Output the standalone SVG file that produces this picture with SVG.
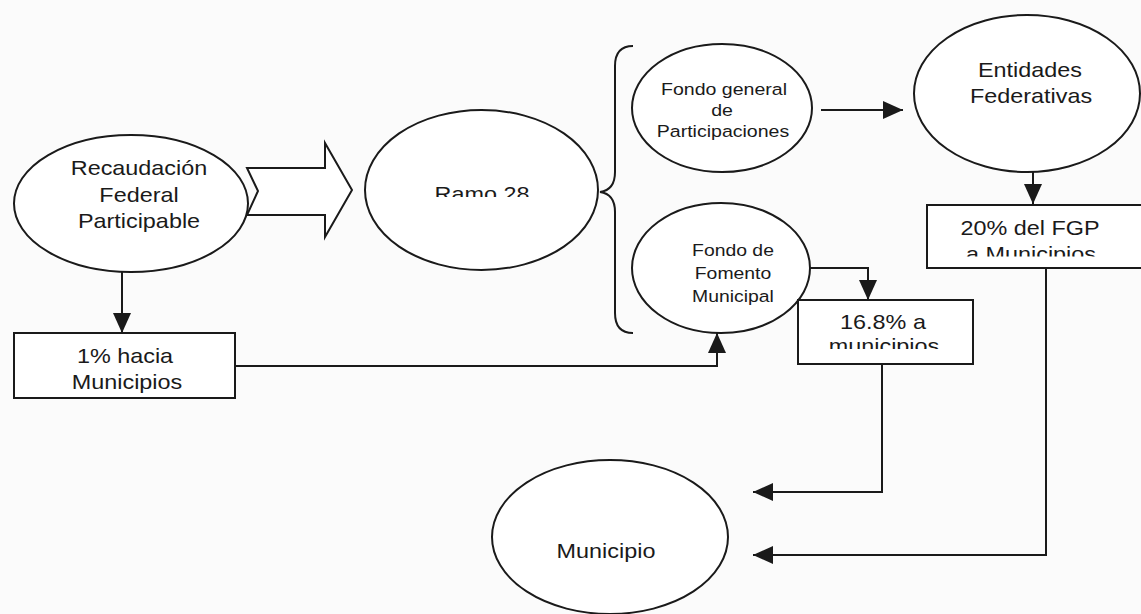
<svg xmlns="http://www.w3.org/2000/svg" width="1141" height="614" viewBox="0 0 1141 614">
<style>
.shape{fill:#fff;stroke:#1a1a1a;stroke-width:2}
.ln{fill:none;stroke:#1a1a1a;stroke-width:2}
.t{font-family:"Liberation Sans",Arial,sans-serif;font-size:20px;fill:#1a1a1a;text-anchor:middle}
.s{font-size:17px}
</style>
<defs>
<marker id="ah" markerUnits="userSpaceOnUse" markerWidth="20" markerHeight="18" refX="20" refY="9" orient="auto">
<path d="M0,0 L20,9 L0,18 z" fill="#1a1a1a"/>
</marker>
<clipPath id="cRamo"><rect x="400" y="150" width="170" height="47"/></clipPath>
<clipPath id="c20"><rect x="928" y="206" width="212" height="50.5"/></clipPath>
<clipPath id="c16"><rect x="799" y="301" width="173" height="48"/></clipPath>
</defs>
<rect width="1141" height="614" fill="#fbfbfb"/>

<g id="connectors">
<polygon class="shape" points="247,168 325,168 325,143 352,190 325,237 325,215 247,215 258,191"/>
<path class="ln" d="M633,46 Q615,46 615,66 L615,172 Q615,190 600,192 Q615,194 615,212 L615,313 Q615,333 633,333"/>
<line class="ln" x1="122" y1="272" x2="122" y2="333" marker-end="url(#ah)"/>
<polyline class="ln" points="235,366 717,366 717,333" marker-end="url(#ah)"/>
<line class="ln" x1="821" y1="110" x2="903" y2="110" marker-end="url(#ah)"/>
<line class="ln" x1="1033" y1="172" x2="1033" y2="204" marker-end="url(#ah)"/>
<polyline class="ln" points="810,268 868,268 868,300" marker-end="url(#ah)"/>
<polyline class="ln" points="882,364 882,492 753,492" marker-end="url(#ah)"/>
<polyline class="ln" points="1046,268 1046,555 753,555" marker-end="url(#ah)"/>
</g>

<g id="recaudacion">
<ellipse class="shape" cx="131" cy="203.5" rx="117" ry="68.5"/>
<text class="t" transform="translate(139,175) scale(1.17,1)">Recaudación</text>
<text class="t" transform="translate(139,202) scale(1.17,1)">Federal</text>
<text class="t" transform="translate(139,228) scale(1.17,1)">Participable</text>
</g>

<g id="uno-por-ciento">
<rect class="shape" x="14" y="333" width="221" height="65"/>
<text class="t" transform="translate(125,363) scale(1.17,1)">1% hacia</text>
<text class="t" transform="translate(127,389) scale(1.17,1)">Municipios</text>
</g>

<g id="ramo28">
<ellipse class="shape" cx="481.5" cy="190" rx="116.5" ry="80"/>
<g clip-path="url(#cRamo)"><text class="t" transform="translate(482,201) scale(1.17,1)">Ramo 28</text></g>
</g>

<g id="fondo-general">
<ellipse class="shape" cx="722" cy="108" rx="90" ry="64"/>
<text class="t s" transform="translate(724,95) scale(1.15,1)">Fondo general</text>
<text class="t s" transform="translate(722,116) scale(1.15,1)">de</text>
<text class="t s" transform="translate(723,137) scale(1.15,1)">Participaciones</text>
</g>

<g id="fondo-fomento">
<ellipse class="shape" cx="721" cy="268" rx="89" ry="65"/>
<text class="t s" transform="translate(733,256) scale(1.14,1)">Fondo de</text>
<text class="t s" transform="translate(733,279) scale(1.14,1)">Fomento</text>
<text class="t s" transform="translate(733,302) scale(1.14,1)">Municipal</text>
</g>

<g id="entidades">
<ellipse class="shape" cx="1027" cy="93.5" rx="113" ry="78.5"/>
<text class="t" transform="translate(1030,77) scale(1.17,1)">Entidades</text>
<text class="t" transform="translate(1031,103) scale(1.17,1)">Federativas</text>
</g>

<g id="veinte-por-ciento">
<rect class="shape" x="927" y="205" width="230" height="63"/>
<text class="t" transform="translate(1030,235) scale(1.17,1)">20% del FGP</text>
<g clip-path="url(#c20)"><text class="t" transform="translate(1031,261) scale(1.17,1)">a Municipios</text></g>
</g>

<g id="dieciseis-por-ciento">
<rect class="shape" x="798" y="300" width="175" height="64"/>
<text class="t" transform="translate(883,329) scale(1.17,1)">16.8% a</text>
<g clip-path="url(#c16)"><text class="t" transform="translate(884,353) scale(1.17,1)">municipios</text></g>
</g>

<g id="municipio">
<ellipse class="shape" cx="610" cy="537" rx="118" ry="77"/>
<text class="t" transform="translate(606,558) scale(1.17,1)">Municipio</text>
</g>
</svg>
